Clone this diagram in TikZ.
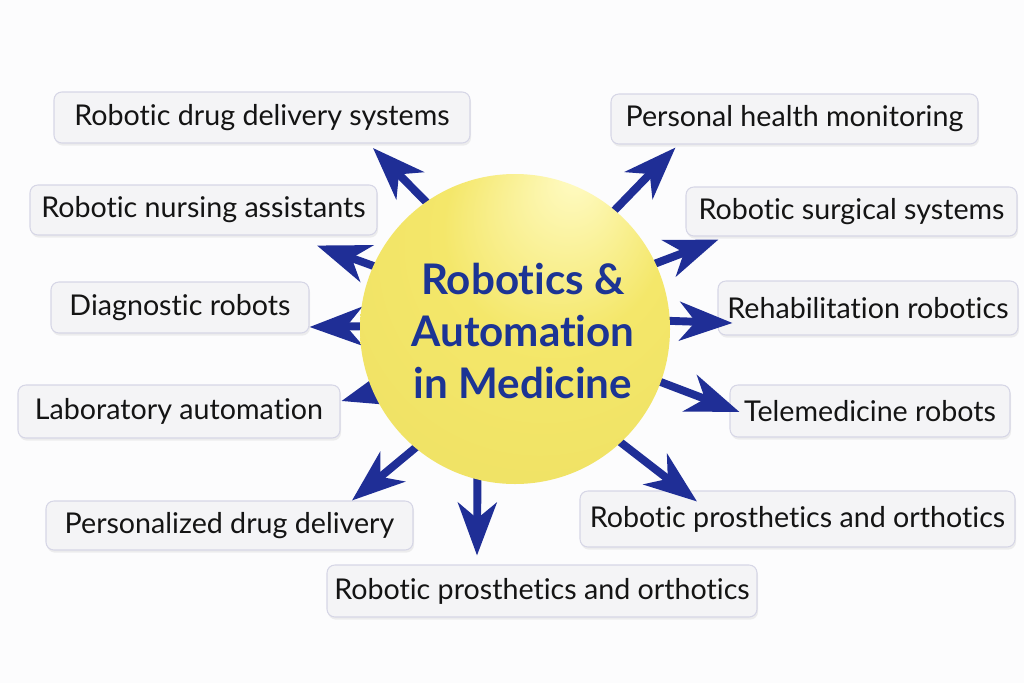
\documentclass[tikz,border=0pt]{standalone}
\usepackage{fontspec}
\setmainfont{Lato}[Ligatures={NoCommon,NoRequired,NoContextual}]
\usetikzlibrary{arrows.meta,shadows,calc}
\definecolor{arrowblue}{HTML}{1F2E96}
\definecolor{titleblue}{HTML}{1C3494}
\definecolor{boxfill}{HTML}{F4F4F6}
\definecolor{boxline}{HTML}{D6D6E6}
\definecolor{bgcol}{HTML}{FCFCFD}
\definecolor{sphHi}{HTML}{FFFBC4}
\definecolor{sphMid}{HTML}{F4E76A}
\definecolor{sphEdge}{HTML}{CFBD40}
\pgfdeclareradialshading{sphereshade}{\pgfpoint{10bp}{25bp}}{color(0bp)=(sphHi); color(18bp)=(sphMid); color(40bp)=(sphMid!85!sphEdge); color(50bp)=(sphEdge)}
\pgfdeclarelayer{front}
\pgfsetlayers{main,front}
\def\pxu{0.02cm}
\begin{document}
\begin{tikzpicture}[x=0.02cm,y=-0.02cm,
  box/.style={draw=boxline, line width=0.6pt, fill=boxfill, rounded corners=4.5pt,
    font=\fontsize{16.3}{20}\selectfont, text=black!92, inner sep=0pt,
    drop shadow={opacity=0.12, shadow xshift=0.6pt, shadow yshift=-1.5pt}},
  arr/.style={draw=arrowblue, line width=4.5pt, shorten <=-8pt,
    -{Stealth[length=30pt,width=22pt,inset=9pt]}},
]
\useasboundingbox[fill=bgcol] (0,0) rectangle (1024,683);

\begin{pgfonlayer}{front}
\node[circle, inner sep=0pt, minimum size=310*\pxu, shading=sphereshade] (S) at (515,329) {};
\node[font=\bfseries\fontsize{24}{29.5}\selectfont, text=titleblue, align=center] (T) at (523,331)
  {Robotics \&\\Automation\\in Medicine};
\end{pgfonlayer}

\node[box, minimum width=416*\pxu, minimum height=51*\pxu] (n1) at (262,117.5) {Robotic drug delivery systems};
\node[box, minimum width=347*\pxu, minimum height=50*\pxu] (n2) at (203.5,210) {Robotic nursing assistants};
\node[box, minimum width=258*\pxu, minimum height=51*\pxu] (n3) at (180,307.5) {Diagnostic robots};
\node[box, minimum width=322*\pxu, minimum height=53*\pxu] (n4) at (179,411.5) {Laboratory automation};
\node[box, minimum width=367*\pxu, minimum height=49*\pxu] (n5) at (229.5,525.5) {Personalized drug delivery};
\node[box, minimum width=430*\pxu, minimum height=52*\pxu] (n6) at (542,591) {Robotic prosthetics and orthotics};
\node[box, minimum width=435*\pxu, minimum height=56*\pxu] (n7) at (797.5,519) {Robotic prosthetics and orthotics};
\node[box, minimum width=280*\pxu, minimum height=52*\pxu] (n8) at (870,411) {Telemedicine robots};
\node[box, minimum width=300*\pxu, minimum height=54*\pxu] (n9) at (868,308) {Rehabilitation robotics};
\node[box, minimum width=331*\pxu, minimum height=49*\pxu] (n10) at (851.5,211.5) {Robotic surgical systems};
\node[box, minimum width=367*\pxu, minimum height=50*\pxu] (n11) at (794.5,119) {Personal health monitoring};

\draw[arr] (S.125) -- ([xshift=111*\pxu, yshift=-4.5*\pxu]n1.south);
\draw[arr] (S.156) -- ([xshift=113.5*\pxu, yshift=-10*\pxu]n2.south);
\draw[arr] (S.179) -- ([yshift=-19.5*\pxu]n3.east);
\draw[arr] (S.204) -- ([xshift=1*\pxu, yshift=10.5*\pxu]n4.east);
\draw[arr] (S.230) -- ([xshift=122.5*\pxu]n5.north);
\draw[arr] (S.256) -- ([xshift=-65*\pxu, yshift=9*\pxu]n6.north);
\draw[arr] (S.313) -- ([xshift=-100.5*\pxu, yshift=-11*\pxu]n7.north);
\draw[arr] (S.340) -- ([xshift=10*\pxu, yshift=-1*\pxu]n8.west);
\draw[arr] (S.3) -- ([xshift=15*\pxu, yshift=-15*\pxu]n9.west);
\draw[arr] (S.25) -- ([xshift=33*\pxu, yshift=-3*\pxu]n10.south west);
\draw[arr] (S.50) -- ([xshift=65*\pxu, yshift=-3*\pxu]n11.south west);
\end{tikzpicture}
\end{document}
